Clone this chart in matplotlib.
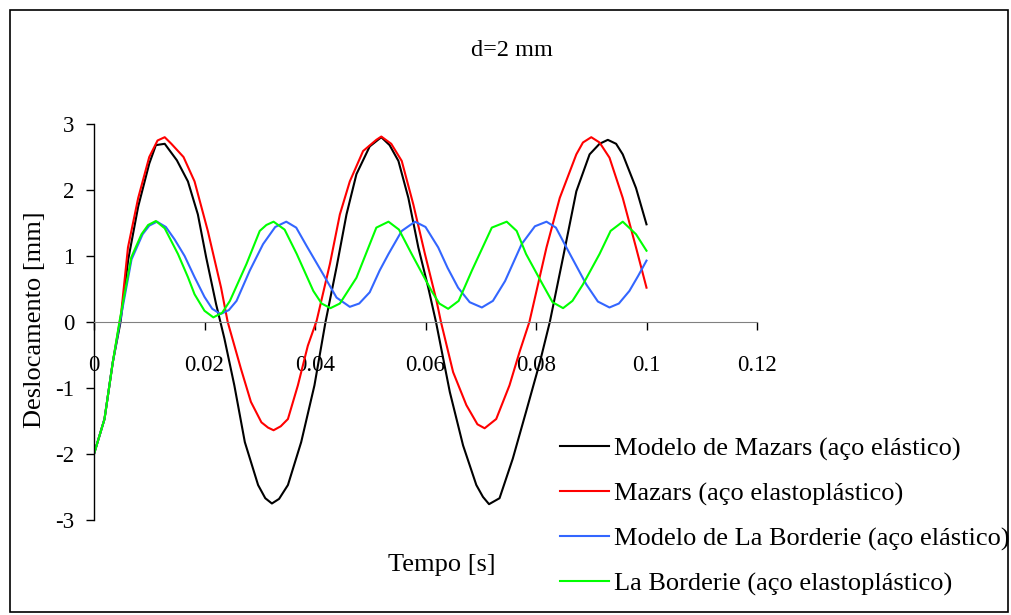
import matplotlib
matplotlib.use("Agg")
import matplotlib.pyplot as plt
from matplotlib.patches import Rectangle

# ------------------------------------------
# Data (time [s], displacement [mm])
# ------------------------------------------
t_mazars_el = [0, 0.0019, 0.0034, 0.0048, 0.0062, 0.008, 0.010, 0.0112, 0.0128, 0.015,
               0.017, 0.0188, 0.0203, 0.0221, 0.0236, 0.0254, 0.0273, 0.0297, 0.031, 0.0322,
               0.0335, 0.0351, 0.0375, 0.0399, 0.0419, 0.0439, 0.0457, 0.0475, 0.0499, 0.052,
               0.0535, 0.0551, 0.0569, 0.0587, 0.0605, 0.0619, 0.0644, 0.0668, 0.0692, 0.0704,
               0.0715, 0.0734, 0.0758, 0.0782, 0.0807, 0.0825, 0.0849, 0.0873, 0.0897, 0.0915,
               0.093, 0.0945, 0.0957, 0.0981, 0.1]
d_mazars_el = [-2.0, -1.47, -0.61, 0.0, 0.95, 1.75, 2.40, 2.68, 2.70, 2.45,
               2.13, 1.63, 0.98, 0.27, -0.25, -0.96, -1.82, -2.47, -2.67, -2.75,
               -2.68, -2.47, -1.82, -0.96, 0.0, 0.83, 1.63, 2.24, 2.66, 2.80,
               2.68, 2.44, 1.88, 1.13, 0.52, 0.0, -1.06, -1.87, -2.47, -2.65,
               -2.76, -2.67, -2.07, -1.36, -0.61, 0.0, 0.98, 1.98, 2.54, 2.70,
               2.76, 2.70, 2.54, 2.03, 1.48]

t_mazars_ep = [0, 0.0019, 0.0034, 0.0049, 0.00615, 0.008, 0.010, 0.0115, 0.0128, 0.014,
               0.0162, 0.0182, 0.0206, 0.023, 0.0242, 0.0266, 0.0284, 0.0303, 0.0315, 0.0325,
               0.0338, 0.0351, 0.0369, 0.0387, 0.0403, 0.0427, 0.0445, 0.0463, 0.0487, 0.0511,
               0.052, 0.0538, 0.0557, 0.0578, 0.0599, 0.062, 0.0628, 0.065, 0.0674, 0.0694,
               0.0707, 0.0728, 0.0752, 0.077, 0.0788, 0.0819, 0.0843, 0.0873, 0.0885, 0.090,
               0.0915, 0.0933, 0.0957, 0.0981, 0.1]
d_mazars_ep = [-2.0, -1.47, -0.61, 0.12, 1.13, 1.88, 2.50, 2.75, 2.80, 2.70,
               2.50, 2.13, 1.38, 0.52, 0.0, -0.71, -1.21, -1.52, -1.60, -1.64,
               -1.58, -1.47, -0.96, -0.36, 0.02, 0.88, 1.63, 2.13, 2.59, 2.76,
               2.81, 2.70, 2.44, 1.78, 1.03, 0.32, 0.0, -0.76, -1.26, -1.55,
               -1.61, -1.47, -0.96, -0.46, 0.0, 1.13, 1.88, 2.54, 2.72, 2.80,
               2.72, 2.49, 1.88, 1.13, 0.52]

t_lab_el = [0, 0.0019, 0.0034, 0.0047, 0.0068, 0.0088, 0.0100, 0.0114, 0.0130, 0.0146,
            0.0164, 0.0182, 0.0200, 0.0214, 0.0229, 0.0244, 0.0258, 0.0282, 0.0306, 0.0328,
            0.0348, 0.0366, 0.0385, 0.0415, 0.0439, 0.0463, 0.0480, 0.0499, 0.0517, 0.0533,
            0.0557, 0.0581, 0.0600, 0.0623, 0.0640, 0.0659, 0.0680, 0.0702, 0.0722, 0.0744,
            0.0774, 0.0798, 0.0819, 0.0836, 0.0855, 0.0873, 0.0891, 0.0912, 0.0933, 0.0950,
            0.0969, 0.0985, 0.1]
d_lab_el = [-2.0, -1.47, -0.61, 0.0, 0.95, 1.33, 1.46, 1.52, 1.44, 1.25,
            1.00, 0.68, 0.38, 0.20, 0.12, 0.18, 0.32, 0.78, 1.18, 1.44,
            1.52, 1.43, 1.15, 0.72, 0.37, 0.23, 0.28, 0.45, 0.78, 1.03,
            1.38, 1.52, 1.44, 1.13, 0.82, 0.52, 0.30, 0.22, 0.32, 0.62,
            1.18, 1.45, 1.52, 1.43, 1.13, 0.85, 0.57, 0.31, 0.22, 0.28,
            0.47, 0.70, 0.93]

t_lab_ep = [0, 0.0019, 0.0034, 0.0046, 0.00675, 0.0086, 0.0098, 0.0112, 0.0128, 0.0152,
            0.0170, 0.0182, 0.0200, 0.0216, 0.0232, 0.0246, 0.0276, 0.0300, 0.0312, 0.0325,
            0.0345, 0.0367, 0.0397, 0.0412, 0.0428, 0.0445, 0.0475, 0.0511, 0.0533, 0.0552,
            0.0575, 0.0611, 0.0625, 0.0641, 0.0660, 0.0684, 0.0720, 0.0747, 0.0765, 0.0782,
            0.0812, 0.0830, 0.0849, 0.0866, 0.0885, 0.0915, 0.0935, 0.0957, 0.0981, 0.1]
d_lab_ep = [-2.0, -1.47, -0.61, 0.0, 0.98, 1.33, 1.47, 1.53, 1.42, 1.03,
            0.68, 0.42, 0.17, 0.07, 0.14, 0.32, 0.88, 1.38, 1.47, 1.52,
            1.40, 1.03, 0.47, 0.28, 0.21, 0.28, 0.67, 1.43, 1.52, 1.40,
            1.03, 0.47, 0.28, 0.20, 0.32, 0.78, 1.43, 1.52, 1.38, 1.03,
            0.57, 0.30, 0.21, 0.32, 0.57, 1.03, 1.38, 1.52, 1.33, 1.08]

labels = ["Modelo de Mazars (aço elástico)",
          "Mazars (aço elastoplástico)",
          "Modelo de La Borderie (aço elástico)",
          "La Borderie (aço elastoplástico)"]
colors = ["#000000", "#FF0000", "#3366FF", "#00FF00"]

x_ticks = [0, 0.02, 0.04, 0.06, 0.08, 0.1, 0.12]
x_tick_labels = ["0", "0.02", "0.04", "0.06", "0.08", "0.1", "0.12"]
y_ticks = [-3, -2, -1, 0, 1, 2, 3]

# ------------------------------------------
# Plot
# ------------------------------------------
plt.rcParams['font.family'] = ['Liberation Serif', 'DejaVu Serif']
plt.rcParams['font.size'] = 16
plt.rcParams['axes.unicode_minus'] = False

fig = plt.figure(figsize=(10.11, 6.15), dpi=100)
ax = fig.add_axes([94/1011, 1 - 520/615, (757 - 94)/1011, (520 - 124)/615])

series = [(t_mazars_el, d_mazars_el), (t_mazars_ep, d_mazars_ep),
          (t_lab_el, d_lab_el), (t_lab_ep, d_lab_ep)]
lines = []
for (t, d), c, lab in zip(series, colors, labels):
    ln, = ax.plot(t, d, color=c, lw=1.5, label=lab)
    lines.append(ln)

ax.set_xlim(0, 0.12)
ax.set_ylim(-3, 3)
ax.set_xticks(x_ticks)
ax.set_xticklabels(x_tick_labels)
ax.set_yticks(y_ticks)

ax.spines['top'].set_visible(False)
ax.spines['right'].set_visible(False)
ax.spines['bottom'].set_position(('data', 0))
ax.spines['bottom'].set_color('#808080')
ax.spines['left'].set_linewidth(1.0)
ax.tick_params(axis='both', labelsize=16.5)
ax.tick_params(axis='y', direction='out', length=6, width=1, pad=8)
ax.tick_params(axis='x', direction='out', length=6, width=1, pad=18, colors='black')
ax.patch.set_visible(False)

fig.text(512/1011, 1 - 50/615, "d=2 mm", ha='center', va='center', fontsize=17.5)
fig.text(35/1011, 1 - 320/615, "Deslocamento [mm]", ha='center', va='center',
         rotation=90, fontsize=19)
fig.text(442/1011, 1 - 565/615, "Tempo [s]", ha='center', va='center', fontsize=19)

fig.legend(handles=lines, loc='upper left', bbox_to_anchor=(560/1011, 1 - 437/615),
           frameon=False, fontsize=19, handlelength=1.85, handletextpad=0.2,
           labelspacing=0.8, borderpad=0, borderaxespad=0)

fig.patches.append(Rectangle((10/1011, 3/615), 998/1011, 602/615, transform=fig.transFigure,
                             fill=False, edgecolor='black', lw=1.2))

plt.savefig("out.png", dpi=100)
plt.close()
